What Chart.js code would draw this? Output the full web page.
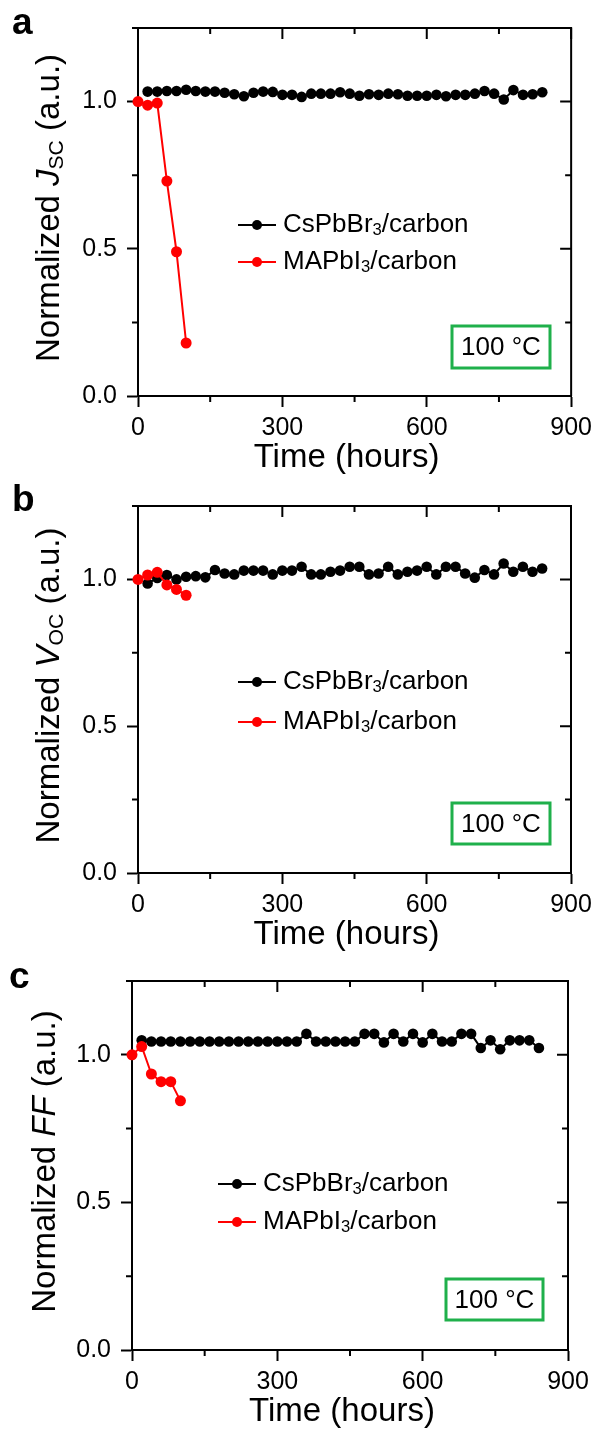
<!DOCTYPE html>
<html>
<head>
<meta charset="utf-8">
<script src="https://cdn.jsdelivr.net/npm/chart.js@4.4.1/dist/chart.umd.min.js"></script>
<style>
  body { margin: 0; background: #fff; width: 598px; height: 1429px; overflow: hidden; }
  .panel { position: absolute; left: 0; width: 598px; }
</style>
</head>
<body>
<div class="panel" style="top:0"><canvas id="chart-a" width="598" height="477"></canvas></div>
<div class="panel" style="top:477px"><canvas id="chart-b" width="598" height="477"></canvas></div>
<div class="panel" style="top:954px"><canvas id="chart-c" width="598" height="475"></canvas></div>
<script>
// --- Data ---
const timeCs = [20, 40, 60, 80, 100, 120, 140, 160, 180, 200, 220, 240, 260, 280, 300, 320, 340, 360, 380, 400,
                420, 440, 460, 480, 500, 520, 540, 560, 580, 600, 620, 640, 660, 680, 700, 720, 740, 760, 780, 800,
                820, 840];
const timeMa = [0, 20, 40, 60, 80, 100];

const jscCs = [1.034, 1.034, 1.036, 1.036, 1.040, 1.036, 1.034, 1.034, 1.030, 1.025,
               1.018, 1.030, 1.034, 1.033, 1.023, 1.023, 1.016, 1.027, 1.027, 1.027,
               1.032, 1.027, 1.020, 1.025, 1.023, 1.027, 1.025, 1.020, 1.020, 1.020,
               1.023, 1.018, 1.023, 1.023, 1.027, 1.036, 1.027, 1.007, 1.039, 1.023,
               1.025, 1.032];
const jscMa = [1.0, 0.988, 0.995, 0.73, 0.49, 0.18];

const vocCs = [0.986, 1.005, 1.015, 1.000, 1.009, 1.011, 1.007, 1.032, 1.020, 1.017,
               1.030, 1.030, 1.030, 1.017, 1.030, 1.030, 1.043, 1.017, 1.017, 1.026,
               1.030, 1.043, 1.043, 1.017, 1.020, 1.043, 1.017, 1.026, 1.030, 1.043,
               1.017, 1.043, 1.043, 1.020, 1.006, 1.032, 1.017, 1.054, 1.026, 1.043,
               1.026, 1.037];
const vocMa = [1.0, 1.015, 1.024, 0.981, 0.966, 0.946];

const ffCs = [1.049, 1.045, 1.045, 1.045, 1.045, 1.045, 1.045, 1.045, 1.045, 1.045,
              1.045, 1.045, 1.045, 1.045, 1.045, 1.045, 1.045, 1.071, 1.045, 1.045,
              1.045, 1.045, 1.045, 1.071, 1.071, 1.042, 1.071, 1.045, 1.071, 1.042,
              1.071, 1.045, 1.045, 1.071, 1.071, 1.023, 1.049, 1.019, 1.049, 1.049,
              1.049, 1.023];
const ffMa = [1.0, 1.028, 0.935, 0.909, 0.909, 0.844];

const xTicks = { min: 0, max: 900, step: 150, labelEvery: 300 };
const yTicks = { min: 0, max: 1.25, step: 0.25, labelEvery: 0.5 };

const FONT = '"Liberation Sans", Arial, sans-serif';
const GREEN = '#1fb04b';

// --- Helpers ---
const isMajorY = v => Math.abs(v / yTicks.labelEvery - Math.round(v / yTicks.labelEvery)) < 1e-6;
const isMajorX = v => Math.abs(v % xTicks.labelEvery) < 1e-6;

// draw a list of [text, style] parts; style: 'n' normal, 'i' italic, 's' subscript
const partFont = (st, size) => (st === 'i' ? 'italic ' : '') + (st === 's' ? size * 0.64 : size) + 'px ' + FONT;
const drawParts = (ctx, parts, x, y, size) => {
    parts.forEach(([txt, st]) => {
        ctx.font = partFont(st, size);
        ctx.fillText(txt, x, st === 's' ? y + size * 0.22 : y);
        x += ctx.measureText(txt).width;
    });
};
const partsWidth = (ctx, parts, size) => parts.reduce((w, [txt, st]) => {
    ctx.font = partFont(st, size);
    return w + ctx.measureText(txt).width;
}, 0);

const decorPlugin = {
    id: 'decor',
    afterDraw(chart, args, opts) {
        const { ctx, chartArea: a } = chart;
        const xs = chart.scales.x, ys = chart.scales.y;
        ctx.save();
        ctx.strokeStyle = '#000';
        ctx.fillStyle = '#000';
        ctx.lineWidth = 2;
        // frame top and right
        ctx.beginPath();
        ctx.moveTo(a.left, a.top); ctx.lineTo(a.right, a.top); ctx.lineTo(a.right, a.bottom);
        ctx.stroke();
        // minor outside ticks + mirrored inside ticks
        ctx.beginPath();
        xs.ticks.forEach(t => {
            const px = xs.getPixelForValue(t.value);
            const len = isMajorX(t.value) ? 11 : 6;
            if (!isMajorX(t.value)) { ctx.moveTo(px, a.bottom); ctx.lineTo(px, a.bottom + 6); }
            ctx.moveTo(px, a.top); ctx.lineTo(px, a.top + len);
        });
        ys.ticks.forEach(t => {
            const py = ys.getPixelForValue(t.value);
            const len = isMajorY(t.value) ? 11 : 6;
            if (!isMajorY(t.value)) { ctx.moveTo(a.left, py); ctx.lineTo(a.left - 6, py); }
            ctx.moveTo(a.right, py); ctx.lineTo(a.right - len, py);
        });
        ctx.stroke();

        // panel letter
        ctx.font = 'bold 37px ' + FONT;
        ctx.textBaseline = 'alphabetic';
        ctx.fillText(opts.letter, opts.letterX, 34);

        // x title
        const tSize = 33;
        ctx.font = tSize + 'px ' + FONT;
        ctx.textAlign = 'center';
        ctx.textBaseline = 'middle';
        ctx.fillText('Time (hours)', (a.left + a.right) / 2 - 8, a.bottom + 62);
        ctx.textAlign = 'left';

        // y title (rotated)
        ctx.save();
        ctx.translate(opts.yTitleX, (a.top + a.bottom) / 2 - 4);
        ctx.rotate(-Math.PI / 2);
        ctx.textBaseline = 'middle';
        const w = partsWidth(ctx, opts.yTitle, tSize);
        drawParts(ctx, opts.yTitle, -w / 2, 0, tSize);
        ctx.restore();

        // legend
        const lSize = 26;
        ctx.textBaseline = 'middle';
        opts.legend.forEach((item, i) => {
            const y = opts.legendY[i];
            const x0 = opts.legendX;
            ctx.strokeStyle = item.color;
            ctx.fillStyle = item.color;
            ctx.lineWidth = 2;
            ctx.beginPath(); ctx.moveTo(x0, y); ctx.lineTo(x0 + 38, y); ctx.stroke();
            ctx.beginPath(); ctx.arc(x0 + 19, y, 5, 0, Math.PI * 2); ctx.fill();
            ctx.fillStyle = '#000';
            drawParts(ctx, item.parts, x0 + 45, y, lSize);
        });

        // temperature box
        const b = opts.box;
        ctx.strokeStyle = GREEN;
        ctx.lineWidth = 3;
        ctx.strokeRect(b.x, b.y, b.w, b.h);
        ctx.fillStyle = '#000';
        ctx.font = '26px ' + FONT;
        ctx.textAlign = 'center';
        ctx.fillText('100 °C', b.x + b.w / 2, b.y + b.h / 2 + 1);
        ctx.restore();
    }
};

const legendItems = [
    { color: '#000', parts: [['CsPbBr', 'n'], ['3', 's'], ['/carbon', 'n']] },
    { color: '#ff0000', parts: [['MAPbI', 'n'], ['3', 's'], ['/carbon', 'n']] }
];

const makePanel = (id, geo, csVals, maVals, decor) => {
    const canvas = document.getElementById(id);
    const H = canvas.height, W = canvas.width;
    return new Chart(canvas.getContext('2d'), {
        type: 'line',
        data: {
            datasets: [
                {
                    label: 'CsPbBr3/carbon',
                    data: timeCs.map((t, i) => ({ x: t, y: csVals[i] })),
                    borderColor: '#000', backgroundColor: '#000',
                    borderWidth: 2, pointRadius: 5.3, pointBorderWidth: 0,
                    tension: 0, order: 2, clip: false
                },
                {
                    label: 'MAPbI3/carbon',
                    data: timeMa.map((t, i) => ({ x: t, y: maVals[i] })),
                    borderColor: '#ff0000', backgroundColor: '#ff0000',
                    borderWidth: 2, pointRadius: 5.5, pointBorderWidth: 0,
                    tension: 0, order: 1, clip: false
                }
            ]
        },
        options: {
            responsive: false,
            animation: false,
            events: [],
            layout: { padding: { top: geo.top, right: W - geo.right, left: 0, bottom: 0 } },
            scales: {
                x: {
                    type: 'linear', min: xTicks.min, max: xTicks.max,
                    afterFit: s => { s.height = H - geo.bottom; },
                    grid: {
                        drawOnChartArea: false, tickLength: 11, tickWidth: 2,
                        tickColor: c => (c.tick && isMajorX(c.tick.value)) ? '#000' : 'rgba(0,0,0,0)'
                    },
                    border: { color: '#000', width: 2 },
                    ticks: {
                        stepSize: xTicks.step, autoSkip: false, maxRotation: 0, padding: 6,
                        color: '#000', font: { family: FONT, size: 25 },
                        callback: v => isMajorX(v) ? String(v) : ''
                    }
                },
                y: {
                    min: yTicks.min, max: yTicks.max,
                    afterFit: s => { s.width = geo.left; },
                    grid: {
                        drawOnChartArea: false, tickLength: 11, tickWidth: 2,
                        tickColor: c => (c.tick && isMajorY(c.tick.value)) ? '#000' : 'rgba(0,0,0,0)'
                    },
                    border: { color: '#000', width: 2 },
                    ticks: {
                        stepSize: yTicks.step, autoSkip: false, padding: 10,
                        color: '#000', font: { family: FONT, size: 25 },
                        callback: v => isMajorY(v) ? v.toFixed(1) : ''
                    }
                }
            },
            plugins: {
                legend: { display: false },
                tooltip: { enabled: false },
                decor: decor
            }
        },
        plugins: [decorPlugin]
    });
};

makePanel('chart-a', { left: 138, right: 572, top: 28, bottom: 396 }, jscCs, jscMa, {
    letter: 'a', letterX: 12, yTitleX: 50,
    yTitle: [['Normalized ', 'n'], ['J', 'i'], ['SC', 's'], [' (a.u.)', 'n']],
    legend: legendItems, legendX: 238, legendY: [225, 262],
    box: { x: 452, y: 326, w: 98, h: 42 }
});
makePanel('chart-b', { left: 138, right: 571, top: 29, bottom: 396 }, vocCs, vocMa, {
    letter: 'b', letterX: 12, yTitleX: 50,
    yTitle: [['Normalized ', 'n'], ['V', 'i'], ['OC', 's'], [' (a.u.)', 'n']],
    legend: legendItems, legendX: 238, legendY: [205, 245],
    box: { x: 452, y: 326, w: 98, h: 41 }
});
makePanel('chart-c', { left: 132, right: 568, top: 27, bottom: 396 }, ffCs, ffMa, {
    letter: 'c', letterX: 9, yTitleX: 46,
    yTitle: [['Normalized ', 'n'], ['FF', 'i'], [' (a.u.)', 'n']],
    legend: legendItems, legendX: 218, legendY: [230, 268],
    box: { x: 446, y: 325, w: 97, h: 41 }
});
</script>
</body>
</html>
